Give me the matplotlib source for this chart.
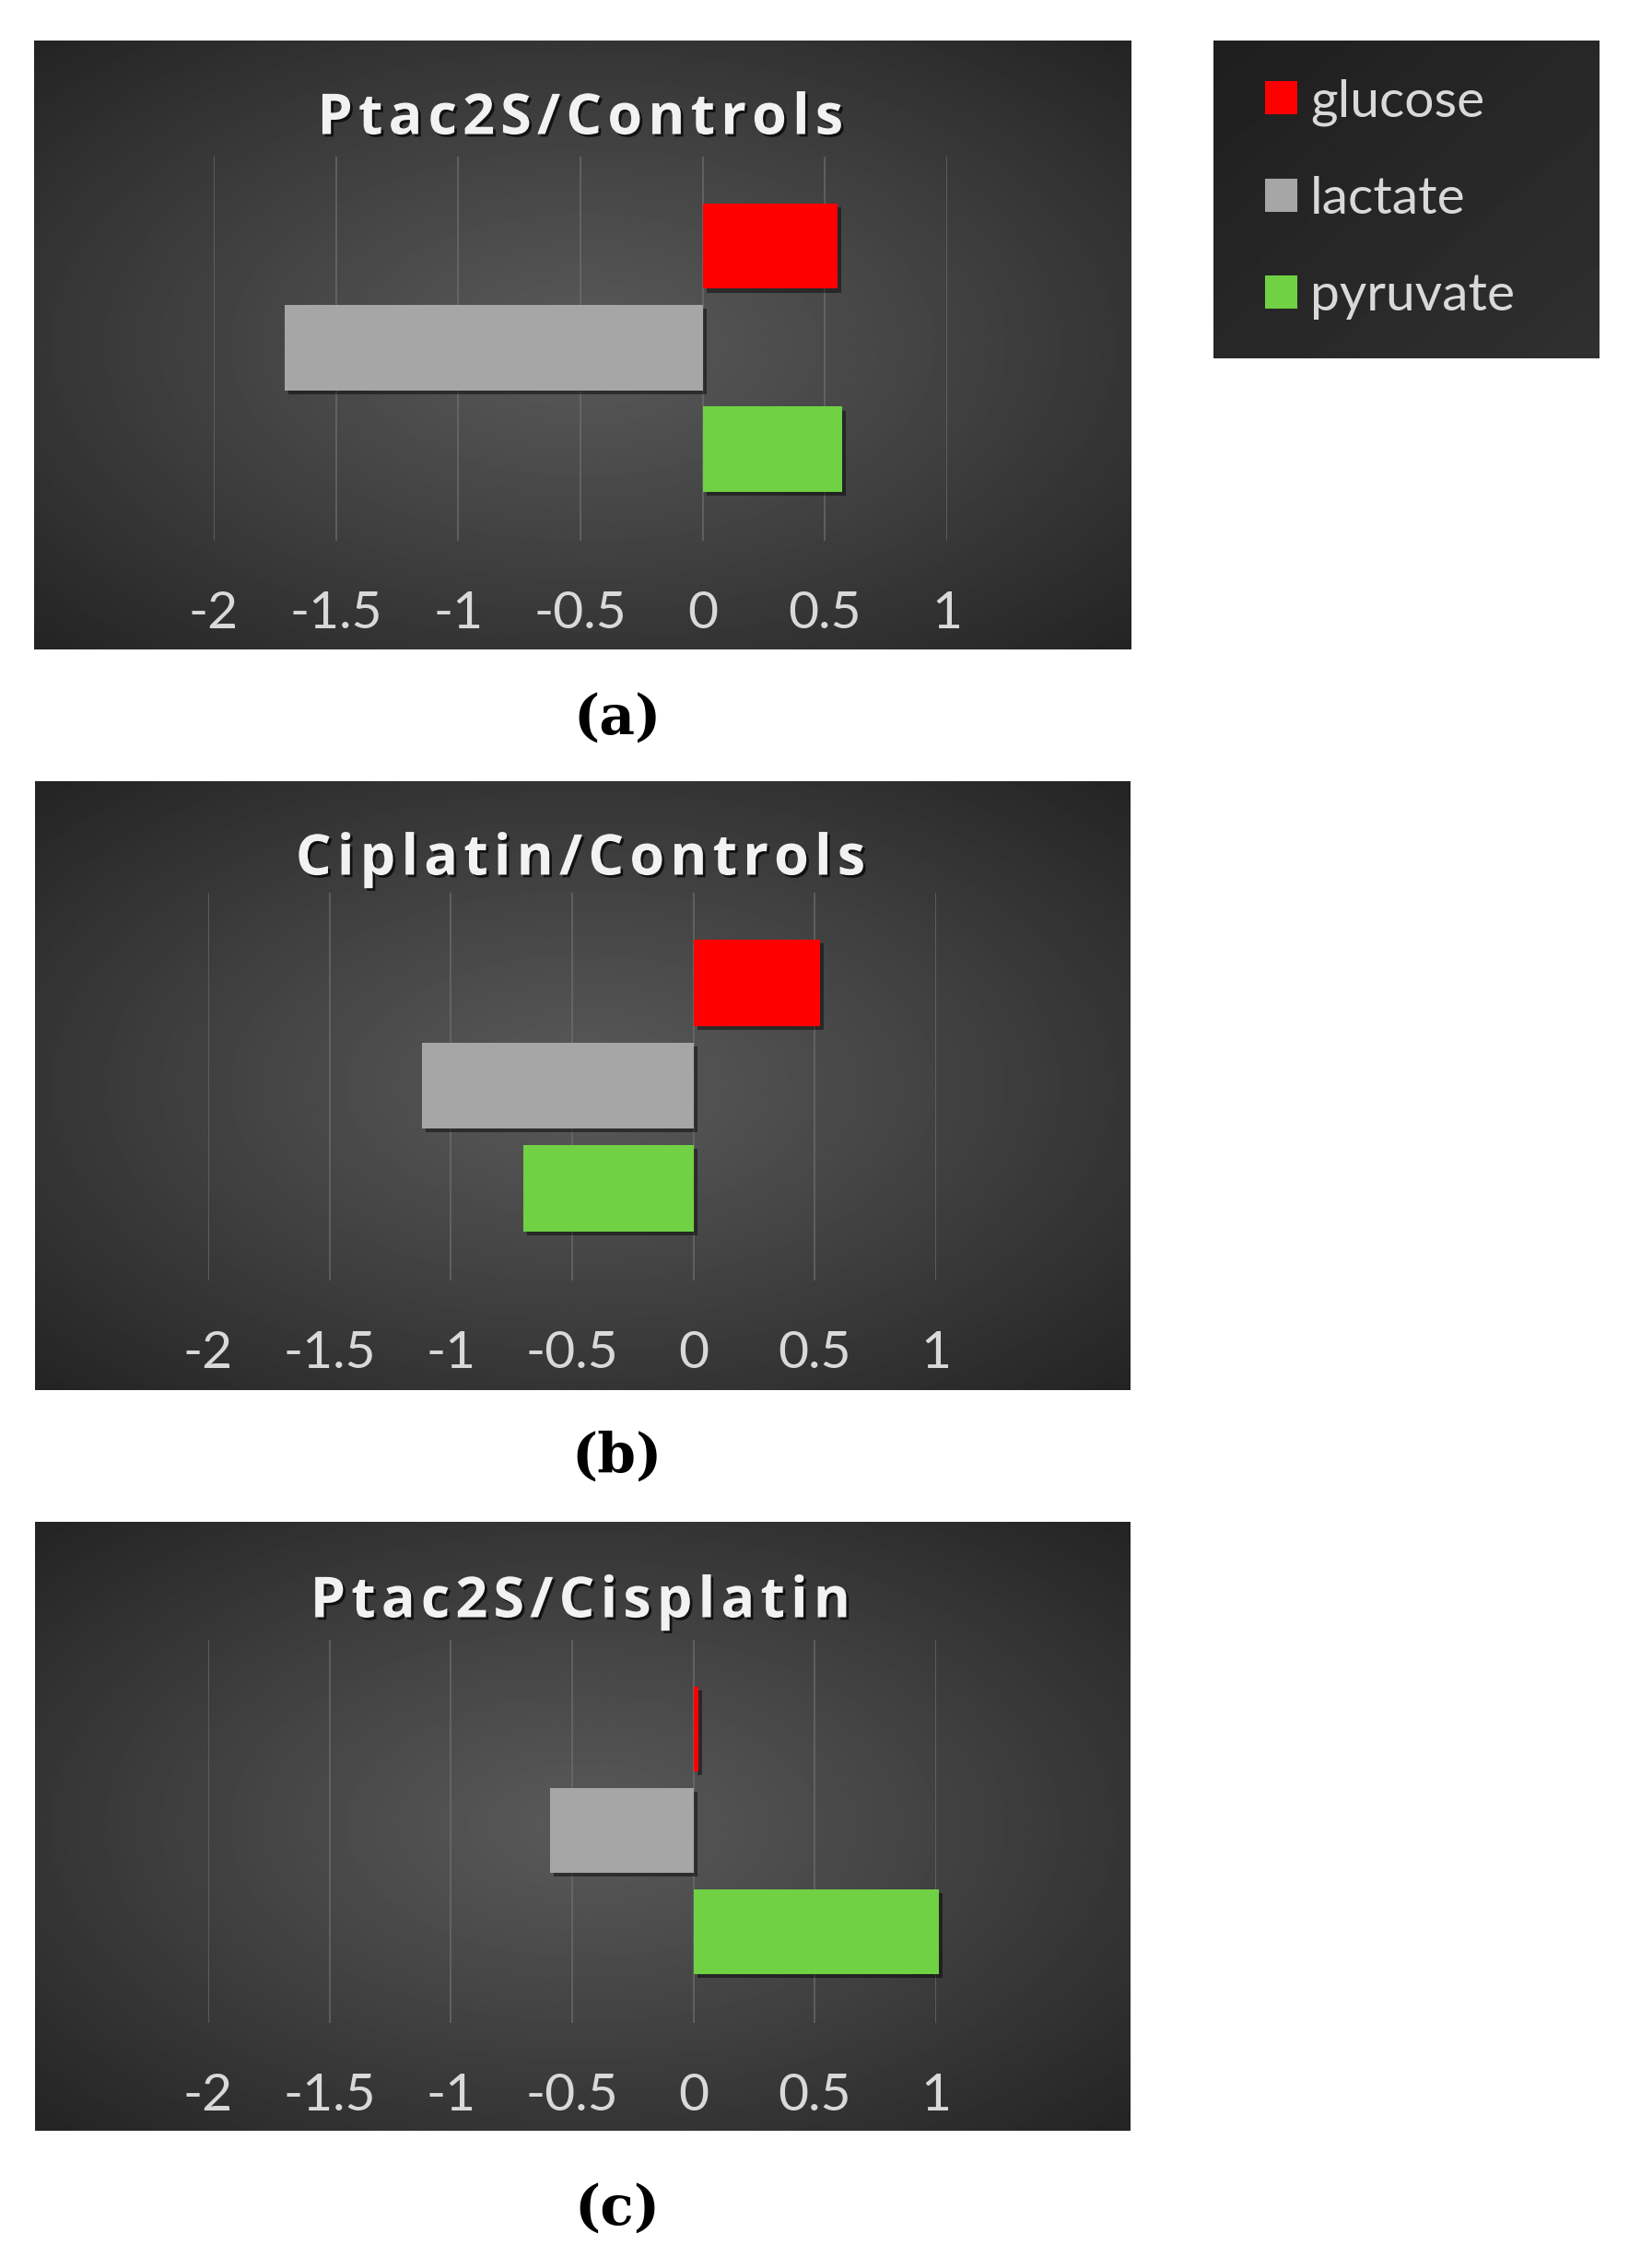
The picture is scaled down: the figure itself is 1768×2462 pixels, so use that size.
import matplotlib.pyplot as plt
import matplotlib.patheffects as pe
from matplotlib.patches import Patch
import numpy as np

metabolites = ['glucose', 'lactate', 'pyruvate']
colors = ['#ff0000', '#a6a6a6', '#6fd143']
titles = ['Ptac2S/Controls', 'Ciplatin/Controls', 'Ptac2S/Cisplatin']
panel_tags = ['(a)', '(b)', '(c)']
ptac_vs_ctrl = [0.55, -1.71, 0.57]
cis_vs_ctrl = [0.52, -1.12, -0.70]
ptac_vs_cis = [0.02, -0.59, 1.01]
ticks = [-2, -1.5, -1, -0.5, 0, 0.5, 1]
tick_labels = ['-2', '-1.5', '-1', '-0.5', '0', '0.5', '1']

W, H = 1768, 2462
fig = plt.figure(figsize=(W / 100, H / 100), dpi=100)
fig.patch.set_facecolor('white')


def rect(x0, y0, x1, y1):
    # pixel box -> figure fraction
    return [x0 / W, 1 - y1 / H, (x1 - x0) / W, (y1 - y0) / H]


def radial_bg(ax, inner=0.35, outer=0.14):
    yy, xx = np.mgrid[-1:1:300j, -1:1:400j]
    r = np.clip(np.sqrt(xx ** 2 + yy ** 2) / np.sqrt(2), 0, 1)
    v = inner + (outer - inner) * r ** 1.1
    ax.imshow(v, cmap='gray', vmin=0, vmax=1, extent=[0, 1, 0, 1],
              aspect='auto', interpolation='bilinear')
    ax.set_axis_off()


# bg box, grid x (-2 .. 1), grid y, title y, tag y
layout = [
    ((37, 44, 1227, 705), (232, 1028), (170, 587), 130, 780),
    ((38, 848, 1226, 1509), (226, 1016), (969, 1390), 934, 1582),
    ((38, 1652, 1226, 2313), (226, 1016), (1780, 2196), 1740, 2398),
]
series = [ptac_vs_ctrl, cis_vs_ctrl, ptac_vs_cis]

title_fx = [pe.withSimplePatchShadow(offset=(2, -2), shadow_rgbFace='black', alpha=0.7)]
bar_fx = [pe.SimplePatchShadow(offset=(3, -3), shadow_rgbFace='black', alpha=0.45), pe.Normal()]

for (bg, gx, gy, ty, tagy), vals, title, tag in zip(layout, series, titles, panel_tags):
    bax = fig.add_axes(rect(*bg))
    radial_bg(bax)

    ax = fig.add_axes(rect(gx[0], gy[0], gx[1], gy[1]))
    ax.patch.set_alpha(0)
    bars = ax.barh(range(3), vals, height=0.84, color=colors, clip_on=False)
    for b in bars:
        b.set_path_effects(bar_fx)
    ax.set_xlim(-2, 1)
    ax.set_ylim(2.9, -0.88)
    ax.set_xticks(ticks)
    ax.set_xticklabels(tick_labels)
    ax.set_yticks([])
    ax.grid(axis='x', color='#707070', linewidth=1.3, alpha=0.7)
    ax.set_axisbelow(True)
    for s in ax.spines.values():
        s.set_visible(False)
    ax.tick_params(axis='x', length=0, pad=39, labelsize=41, labelcolor='#d9d9d9')
    for lab in ax.get_xticklabels():
        lab.set_fontfamily('Lato')

    spaced = '\u200a'.join(title)  # letter spacing
    fig.text(630 / W, 1 - ty / H, spaced, ha='center', va='center', fontsize=44,
             family=['Open Sans', 'DejaVu Sans'], fontweight='bold', color='#f2f2f2',
             path_effects=title_fx)
    fig.text(670 / W, 1 - tagy / H, tag, ha='center', va='center', fontsize=43,
             fontfamily='DejaVu Serif', fontweight='bold', color='black')

# legend box
lax = fig.add_axes(rect(1317, 44, 1735, 389))
yy, xx = np.mgrid[0:1:200j, 0:1:240j]
lax.imshow(0.12 + 0.07 * (xx + yy) / 2, cmap='gray', vmin=0, vmax=1,
           extent=[0, 1, 0, 1], aspect='auto', interpolation='bilinear')
lax.set_axis_off()

handles = [Patch(facecolor=c, edgecolor='none') for c in colors]
leg = fig.legend(handles, metabolites, loc='upper left',
                 bbox_to_anchor=(1345 / W, 1 - 57 / H), frameon=False,
                 handlelength=0.6, handleheight=0.6,
                 handletextpad=0.25, labelspacing=0.95, borderpad=0,
                 prop={'family': 'Lato', 'size': 41})
for t in leg.get_texts():
    t.set_color('#d9d9d9')

fig.savefig('out.png', dpi=100)
